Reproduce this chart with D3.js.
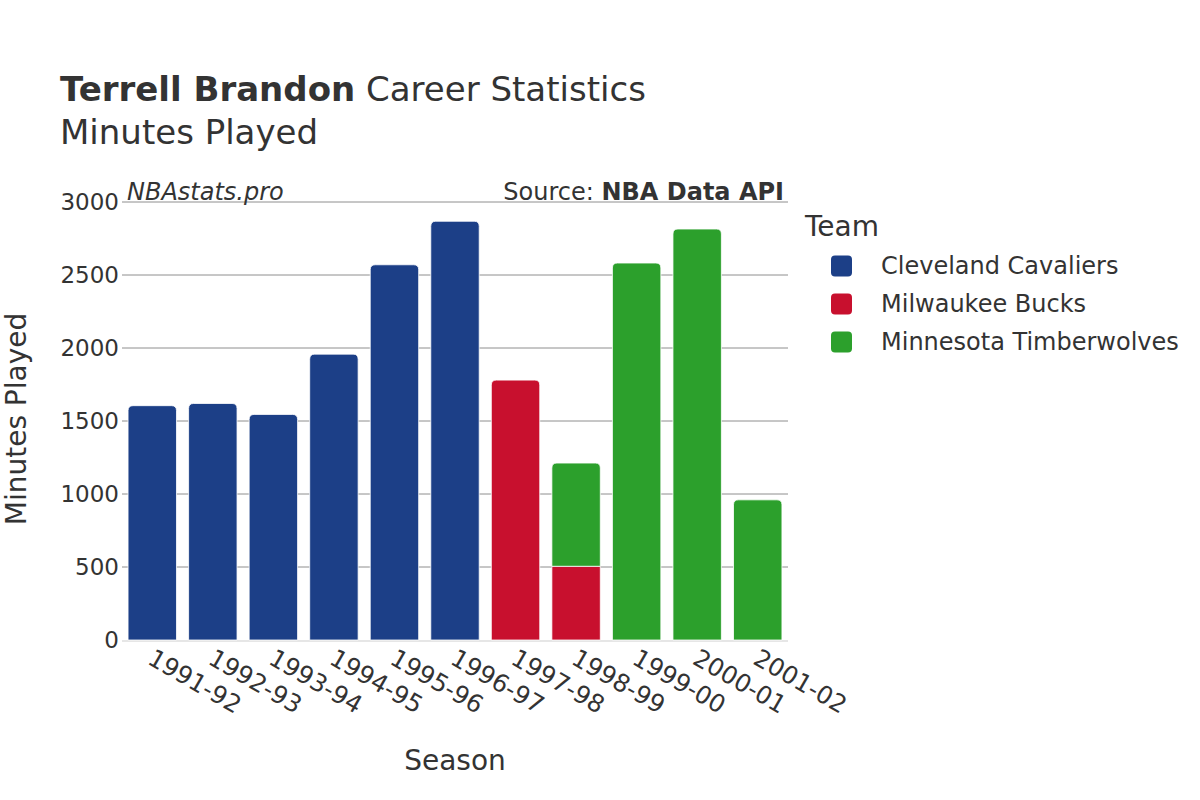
<!DOCTYPE html>
<html><head><meta charset="utf-8">
<script src="https://cdn.jsdelivr.net/npm/d3@7"></script>
<style>body{margin:0;background:#fff}text{font-family:"DejaVu Sans",sans-serif}</style>
</head><body><svg id="c" width="1200" height="800"></svg>
<script>
const seasons = ["1991-92","1992-93","1993-94","1994-95","1995-96","1996-97","1997-98","1998-99","1999-00","2000-01","2001-02"];
const teams = ["Cleveland Cavaliers","Milwaukee Bucks","Minnesota Timberwolves"];
const teamColors = ["#1c3f87","#c8102e","#2ca02c"];
const cavaliers = [1605,1620,1545,1958,2570,2868,0,0,0,0,0];
const bucks = [0,0,0,0,0,0,1780,505,0,0,0];
const timberwolves = [0,0,0,0,0,0,0,707,2582,2815,960];
const yTicks = [0,500,1000,1500,2000,2500,3000];

const series = [cavaliers,bucks,timberwolves];
const svg = d3.select("#c");
const L=122,R=788,T=202,B=640;
const x = d3.scaleBand().domain(seasons).range([L,R]).paddingInner(0.2).paddingOuter(0.1);
const y = d3.scaleLinear().domain([0,3000]).range([B,T]);

// gridlines
svg.append("g").selectAll("line").data(yTicks.filter(d=>d>0)).join("line")
  .attr("x1",L).attr("x2",R).attr("y1",d=>y(d)).attr("y2",d=>y(d))
  .attr("stroke","#8e8e8e").attr("stroke-width",1);
svg.append("line").attr("x1",L).attr("x2",R).attr("y1",B+1).attr("y2",B+1).attr("stroke","#e6e6e6").attr("stroke-width",2);

// y tick labels
svg.append("g").selectAll("text").data(yTicks).join("text")
  .attr("x",L-3).attr("y",d=>y(d)).attr("dy","0.35em").attr("text-anchor","end")
  .attr("font-size",23).attr("fill","#333").text(d=>d);

// bars
function barPath(x0,y0,w,h,r){
  if(h<=0) return "";
  r=Math.min(r,h,w/2);
  return `M${x0},${y0+h}V${y0+r}Q${x0},${y0} ${x0+r},${y0}H${x0+w-r}Q${x0+w},${y0} ${x0+w},${y0+r}V${y0+h}Z`;
}
const gBars = svg.append("g");
seasons.forEach((s,i)=>{
  let base=0;
  const segs=[];
  series.forEach((arr,k)=>{ if(arr[i]>0){segs.push({k,v0:base,v1:base+arr[i]}); base+=arr[i];} });
  segs.forEach((sg,j)=>{
    const top = j===segs.length-1;
    const x0=x(s), w=x.bandwidth(), y0=y(sg.v1), h=y(sg.v0)-y(sg.v1);
    gBars.append("path").attr("d", top?barPath(x0,y0,w,h,5):`M${x0},${y0}h${w}v${h}h${-w}Z`)
      .attr("fill",teamColors[sg.k]).attr("stroke","#fff").attr("stroke-width",0.8);
  });
});

// x tick labels
svg.append("g").selectAll("text").data(seasons).join("text")
  .attr("transform",d=>`translate(${x(d)+x.bandwidth()/2-6},${663}) rotate(30)`)
  .attr("font-size",24.5).attr("fill","#333").text(d=>d);

// axis titles
svg.append("text").attr("x",455).attr("y",770).attr("text-anchor","middle").attr("font-size",28).attr("fill","#333").text("Season");
svg.append("text").attr("transform","translate(26,419) rotate(-90)").attr("text-anchor","middle").attr("font-size",28).attr("fill","#333").text("Minutes Played");

// title
const t = svg.append("text").attr("x",60).attr("y",101).attr("font-size",34).attr("fill","#333");
t.append("tspan").attr("font-weight","bold").text("Terrell Brandon");
t.append("tspan").text(" Career Statistics");
svg.append("text").attr("x",60).attr("y",144).attr("font-size",34).attr("fill","#333").text("Minutes Played");

// annotations
svg.append("text").attr("x",127).attr("y",200).attr("font-size",24).attr("font-style","italic").attr("fill","#333").text("NBAstats.pro");
const src = svg.append("text").attr("x",784).attr("y",200).attr("text-anchor","end").attr("font-size",24).attr("fill","#333");
src.append("tspan").text("Source: ");
src.append("tspan").attr("font-weight","bold").text("NBA Data API");

// legend
svg.append("text").attr("x",805).attr("y",236).attr("font-size",28).attr("fill","#333").text("Team");
const lg = svg.append("g").selectAll("g").data(teams).join("g").attr("transform",(d,i)=>`translate(831,${266+i*38})`);
lg.append("rect").attr("x",0).attr("y",-10.5).attr("width",21).attr("height",21).attr("rx",4).attr("fill",(d,i)=>teamColors[i]);
lg.append("text").attr("x",50).attr("y",0).attr("dy","0.35em").attr("font-size",24).attr("fill","#333").text(d=>d);
</script></body></html>
